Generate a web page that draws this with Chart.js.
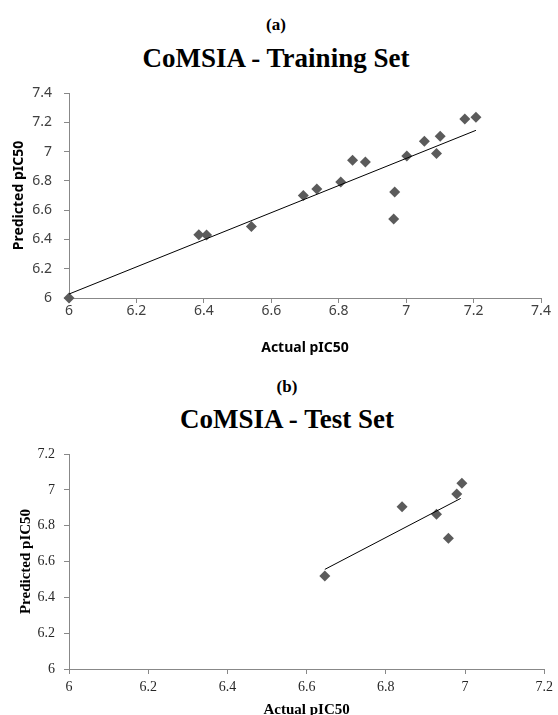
<!DOCTYPE html>
<html>
<head>
<meta charset="utf-8">
<title>CoMSIA</title>
<script src="https://cdn.jsdelivr.net/npm/chart.js@4.4.1/dist/chart.umd.min.js"></script>
<style>
html, body { margin: 0; padding: 0; background: #fff; overflow: hidden; }
body { width: 558px; height: 715px; position: relative; }
.box { position: absolute; left: 0; width: 558px; }
.label {
    position: absolute;
    transform: translate(-50%, -50%);
    font-family: "Liberation Serif", serif;
    font-weight: bold;
    color: #000;
    white-space: nowrap;
    line-height: 1;
}
</style>
</head>
<body>
<div class="label" style="left:276px; top:24px; font-size:17px;">(a)</div>
<div class="label" style="left:276px; top:58px; font-size:27px;">CoMSIA - Training Set</div>
<div class="box" style="top:0; height:360px;"><canvas id="trainChart"></canvas></div>

<div class="label" style="left:287px; top:386px; font-size:17px;">(b)</div>
<div class="label" style="left:287px; top:419px; font-size:27px;">CoMSIA - Test Set</div>
<div class="box" style="top:360px; height:362px;"><canvas id="testChart"></canvas></div>

<script>
// Training set (a)
const trainActual    = [6.00, 6.385, 6.408, 6.541, 6.695, 6.735, 6.806, 6.841, 6.879, 6.966, 6.963, 7.002, 7.054, 7.090, 7.101, 7.174, 7.207];
const trainPredicted = [6.00, 6.432, 6.430, 6.489, 6.700, 6.744, 6.792, 6.940, 6.929, 6.724, 6.540, 6.970, 7.070, 6.986, 7.104, 7.223, 7.234];
const trainFitX = [6.00, 7.207];
const trainFitY = [6.027, 7.145];
const trainTicks = [6, 6.2, 6.4, 6.6, 6.8, 7, 7.2, 7.4];

// Test set (b)
const testActual    = [6.646, 6.841, 6.928, 6.958, 6.979, 6.992];
const testPredicted = [6.519, 6.906, 6.864, 6.730, 6.977, 7.037];
const testFitX = [6.646, 6.989];
const testFitY = [6.556, 6.952];
const testTicks = [6, 6.2, 6.4, 6.6, 6.8, 7, 7.2];

const toPoints = (xs, ys) => xs.map((x, i) => ({ x: x, y: ys[i] }));

function makeChart(id, points, fit, ticks, s) {
    const axis = (tickList, fit, title, titlePad, tickPad) => ({
        type: 'linear',
        min: tickList[0],
        max: tickList[tickList.length - 1],
        afterBuildTicks: scale => { scale.ticks = tickList.map(v => ({ value: v })); },
        afterFit: fit,
        border: { display: true, color: '#888', width: 1 },
        grid: { display: true, drawOnChartArea: false, drawTicks: true, tickLength: 5, color: '#888' },
        ticks: {
            padding: tickPad,
            color: s.tickColor,
            font: s.tickFont,
            callback: value => String(value)
        },
        title: { display: true, text: title, color: '#000', font: s.titleFont, padding: titlePad }
    });

    return new Chart(document.getElementById(id), {
        type: 'scatter',
        data: {
            datasets: [{
                data: fit,
                showLine: true,
                borderColor: '#000',
                borderWidth: 1,
                pointRadius: 0,
                fill: false,
                clip: false
            }, {
                data: points,
                pointStyle: 'rectRot',
                pointRadius: 5.5,
                pointHoverRadius: 5.5,
                backgroundColor: '#5b5b5b',
                borderWidth: 0,
                clip: false
            }]
        },
        options: {
            responsive: true,
            maintainAspectRatio: false,
            animation: false,
            layout: { padding: s.padding },
            plugins: {
                legend: { display: false },
                tooltip: { enabled: false }
            },
            scales: {
                x: axis(ticks, scale => { scale.height = s.xHeight; }, 'Actual pIC50', s.xTitlePad, s.xTickPad),
                y: axis(ticks, scale => { scale.width = s.yWidth; }, 'Predicted pIC50', s.yTitlePad, s.yTickPad)
            }
        }
    });
}

const trainChart = makeChart('trainChart',
    toPoints(trainActual, trainPredicted),
    toPoints(trainFitX, trainFitY),
    trainTicks, {
        padding: { top: 93, right: 17, left: 0, bottom: 0 },
        xHeight: 62,
        yWidth: 69,
        tickColor: '#404040',
        tickFont: { family: '"Noto Sans", sans-serif', size: 14 },
        titleFont: { family: '"Noto Sans", sans-serif', size: 14, weight: 'bold' },
        xTitlePad: { top: 0, bottom: 4 },
        yTitlePad: { top: 11, bottom: 0 },
        xTickPad: 0,
        yTickPad: 12
    });

const testChart = makeChart('testChart',
    toPoints(testActual, testPredicted),
    toPoints(testFitX, testFitY),
    testTicks, {
        padding: { top: 94, right: 10, left: 0, bottom: 0 },
        xHeight: 53,
        yWidth: 69,
        tickColor: '#262626',
        tickFont: { family: '"Liberation Serif", serif', size: 14 },
        titleFont: { family: '"Liberation Serif", serif', size: 15, weight: 'bold' },
        xTitlePad: { top: 0, bottom: 3 },
        yTitlePad: { top: 17, bottom: 0 },
        xTickPad: 5,
        yTickPad: 9
    });
</script>
</body>
</html>
